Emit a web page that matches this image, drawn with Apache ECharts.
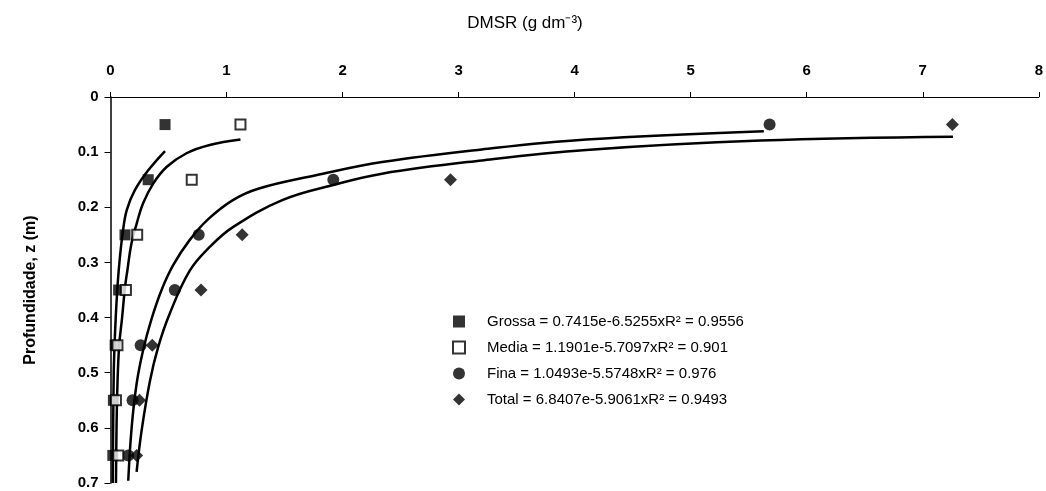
<!DOCTYPE html>
<html>
<head>
<meta charset="utf-8">
<script src="https://cdn.jsdelivr.net/npm/echarts@6/dist/echarts.min.js"></script>
<style>
  html, body { margin: 0; padding: 0; background: #fff; }
  #main { width: 1046px; height: 491px; }
</style>
</head>
<body>
<div id="main"></div>
<script>
// profundidades (m)
var depths = [0.05, 0.15, 0.25, 0.35, 0.45, 0.55, 0.65];
// DMSR observada (g dm-3)
var grossa = [0.47, 0.325, 0.125, 0.07, 0.04, 0.025, 0.02];
var media = [1.12, 0.70, 0.23, 0.133, 0.06, 0.047, 0.067];
var fina = [5.68, 1.92, 0.76, 0.554, 0.26, 0.19, 0.153];
var total = [7.255, 2.93, 1.135, 0.78, 0.36, 0.25, 0.225];

// curvas ajustadas [DMSR, z]
var grossaCurve = [[0.47,0.098],[0.325,0.133],[0.21,0.169],[0.14,0.205],[0.105,0.247],[0.076,0.302],[0.058,0.351],[0.045,0.4],[0.035,0.45],[0.028,0.5],[0.023,0.6],[0.019,0.7]];
var mediaCurve = [[1.12,0.077],[0.855,0.087],[0.655,0.102],[0.483,0.127],[0.368,0.157],[0.28,0.193],[0.225,0.23],[0.18,0.266],[0.145,0.315],[0.125,0.345],[0.1,0.4],[0.075,0.45],[0.06,0.52],[0.052,0.6],[0.047,0.7]];
var finaCurve = [[5.63,0.062],[4.1,0.077],[3.2,0.095],[2.34,0.118],[1.77,0.142],[1.28,0.166],[1.055,0.187],[0.84,0.222],[0.68,0.26],[0.54,0.305],[0.44,0.35],[0.35,0.405],[0.28,0.46],[0.225,0.52],[0.182,0.6],[0.153,0.696]];
var totalCurve = [[7.26,0.072],[5.6,0.079],[4.1,0.096],[3.2,0.115],[2.34,0.139],[1.91,0.16],[1.48,0.187],[1.055,0.236],[0.855,0.272],[0.683,0.315],[0.51,0.393],[0.41,0.454],[0.34,0.515],[0.268,0.605],[0.225,0.68]];

var names = [
  'Grossa = 0.7415e-6.5255xR² = 0.9556',
  'Media = 1.1901e-5.7097xR² = 0.901',
  'Fina = 1.0493e-5.5748xR² = 0.976',
  'Total = 6.8407e-5.9061xR² = 0.9493'
];

function pts(vals) {
  return vals.map(function (v, i) { return [v, depths[i]]; });
}

function curve(data) {
  return {
    type: 'line',
    data: data,
    smooth: 0.4,
    showSymbol: false,
    silent: true,
    lineStyle: { color: '#000', width: 2.5 },
    z: 1
  };
}

var chart = echarts.init(document.getElementById('main'));
var option = {
  backgroundColor: '#fff',
  animation: false,
  textStyle: { fontFamily: 'Liberation Sans, Arial, sans-serif', color: '#000' },
  title: {
    text: 'DMSR (g dm⁻³)',
    left: 520,
    top: 10,
    textAlign: 'center',
    textStyle: { fontSize: 17, fontWeight: 'normal', color: '#000' }
  },
  grid: { left: 110.5, top: 97, right: 4, bottom: 8, containLabel: false },
  legend: {
    data: names,
    orient: 'vertical',
    left: 447,
    top: 309,
    itemGap: 11,
    itemWidth: 12,
    itemHeight: 12,
    textStyle: { fontSize: 15, color: '#000', padding: [0, 0, 0, 17] },
    selectedMode: false
  },
  xAxis: {
    type: 'value',
    position: 'top',
    min: 0,
    max: 8,
    interval: 1,
    axisLine: { show: true, lineStyle: { color: '#000', width: 1 } },
    axisTick: { show: true, length: 5, lineStyle: { color: '#000' } },
    axisLabel: { fontSize: 15, fontWeight: 'bold', color: '#000', margin: 19 },
    splitLine: { show: false }
  },
  yAxis: {
    type: 'value',
    inverse: true,
    min: 0,
    max: 0.7,
    interval: 0.1,
    name: 'Profundidade, z (m)',
    nameLocation: 'middle',
    nameGap: 72,
    nameRotate: 90,
    nameTextStyle: { fontSize: 16, fontWeight: 'bold', color: '#000' },
    axisLine: { show: true, lineStyle: { color: '#000', width: 1.5 } },
    axisTick: { show: true, length: 6, inside: false, lineStyle: { color: '#000' } },
    axisLabel: { fontSize: 15, fontWeight: 'bold', color: '#000', margin: 12 },
    splitLine: { show: false }
  },
  series: [
    curve(grossaCurve),
    curve(mediaCurve),
    curve(finaCurve),
    curve(totalCurve),
    {
      name: names[0], type: 'scatter', symbol: 'rect', symbolSize: 11,
      itemStyle: { color: '#000' }, data: pts(grossa), z: 3
    },
    {
      name: names[1], type: 'scatter', symbol: 'rect', symbolSize: 10,
      itemStyle: { color: '#fff', borderColor: '#000', borderWidth: 2 }, data: pts(media), z: 4
    },
    {
      name: names[2], type: 'scatter', symbol: 'circle', symbolSize: 12,
      itemStyle: { color: '#000' }, data: pts(fina), z: 3
    },
    {
      name: names[3], type: 'scatter', symbol: 'diamond', symbolSize: 13,
      itemStyle: { color: '#000' }, data: pts(total), z: 3
    }
  ]
};
chart.setOption(option);
</script>
</body>
</html>
